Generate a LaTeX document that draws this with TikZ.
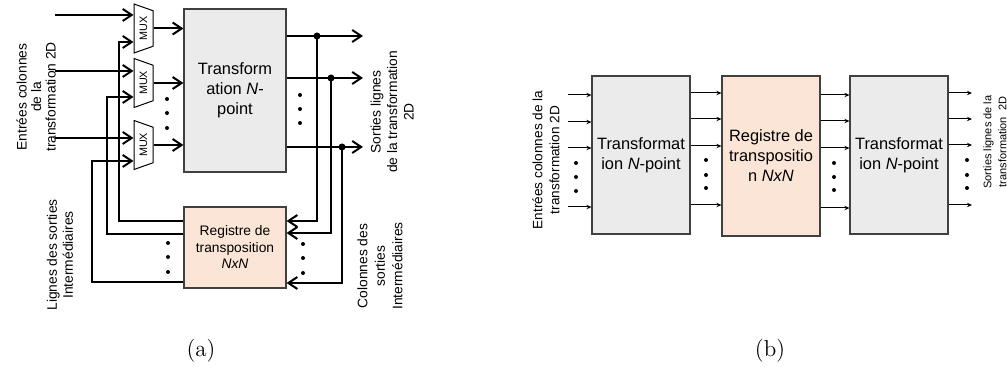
\documentclass[tikz,border=0pt]{standalone}
\usepackage{fontspec}
\newfontfamily\arialfont{Liberation Sans}
\usetikzlibrary{arrows.meta,shapes.geometric}
\definecolor{peach}{RGB}{251,229,214}
\definecolor{boxgray}{RGB}{235,235,235}

\begin{document}
\begin{tikzpicture}[x=0.5pt,y=-0.5pt,
  tbox/.style={rectangle, draw=black!75, line width=0.6pt, fill=boxgray,
               align=center, inner sep=1pt,
               font=\arialfont\fontsize{8.2}{10}\selectfont},
  rbox/.style={tbox, fill=peach},
  mux/.style={trapezium, draw, line width=0.5pt,
              trapezium left angle=121, trapezium right angle=121,
              trapezium stretches=true, minimum width=24.5pt, minimum height=9.5pt,
              inner sep=0pt, rotate=90, font=\arialfont\fontsize{5.4}{6}\selectfont},
  lbl/.style={rotate=90, align=center, inner sep=0pt},
  arr/.style={-{Straight Barb[length=4.5pt,width=6pt]}, line width=1pt},
  thin/.style={-{Stealth[length=2.5pt,width=2.2pt]}, line width=0.5pt},
  font=\arialfont
]
\useasboundingbox (0,0) rectangle (1007,367);

% (a) MUX and transform
\node[mux] (m1) at (143.5,28.5) {MUX};
\node[mux] (m2) at (143.5,83) {MUX};
\node[mux] (m3) at (143.5,145) {MUX};
\node[tbox, minimum width=51pt, minimum height=81.5pt] (tr) at (235,90.5)
  {Transform\\ation \textit{N}-\\point};
\node[rbox, minimum width=51pt, minimum height=40.5pt,
      font=\arialfont\fontsize{6.9}{8.25}\selectfont] (rg) at (235,247.5)
  {Registre de\\transposition\\\textit{NxN}};

% inputs
\coordinate (i1) at (55,15);
\coordinate (i2) at (55,71);
\coordinate (i3) at (55,138);
\draw[arr] (i1) -- (i1 -| m1.north);
\draw[arr] (i2) -- (i2 -| m2.north);
\draw[arr] (i3) -- (i3 -| m3.north);
\draw[arr] (m1.south) -- (m1.south -| tr.west);
\draw[arr] (m2.south) -- (m2.south -| tr.west);
\draw[arr] (m3.south) -- (m3.south -| tr.west);

% outputs
\coordinate (o1) at (363,36);
\coordinate (o2) at (363,78);
\coordinate (o3) at (363,147);
\coordinate (j1) at (317,36);
\coordinate (j2) at (331,78);
\coordinate (j3) at (342,147);
\draw[arr] (o1 -| tr.east) -- (o1);
\draw[arr] (o2 -| tr.east) -- (o2);
\draw[arr] (o3 -| tr.east) -- (o3);
\fill (j1) circle (1.75pt);
\fill (j2) circle (1.75pt);
\fill (j3) circle (1.75pt);

% feedback
\draw[arr] (j1) |- (rg.east |- 0,221);
\draw[arr] (j2) |- (rg.east |- 0,233);
\draw[arr] (j3) |- (rg.east |- 0,283);
\draw[arr] (rg.west |- 0,221) -| (119,42) -- (m1.north |- 0,42);
\draw[arr] (rg.west |- 0,234) -| (107,97) -- (m2.north |- 0,97);
\draw[arr] (rg.west |- 0,282) -| (92,161) -- (m3.north |- 0,161);

% dots
\foreach \y in {99,113,128} \fill (167,\y) circle (1pt);
\foreach \y in {95,109,123} \fill (300,\y) circle (1pt);
\foreach \y in {243,257,272} \fill (168,\y) circle (1pt);
\foreach \y in {244,258,273} \fill (303,\y) circle (1pt);

% labels
\node[lbl, font=\arialfont\fontsize{6.9}{7.25}\selectfont] (lin) at (36,97)
  {Entrées colonnes\\de la\\transformation 2D};
\node[lbl, font=\arialfont\fontsize{6.9}{8}\selectfont] (lint) at (60,255)
  {Lignes des sorties\\Intermédiaires};
\node[lbl, font=\arialfont\fontsize{6.9}{8.25}\selectfont] (lout) at (392,112)
  {Sorties lignes\\de la transformation\\2D};
\node[lbl, font=\arialfont\fontsize{6.9}{8.75}\selectfont] (lcol) at (380,266)
  {Colonnes des\\sorties\\Intermédiaires};
\node[font=\rmfamily\fontsize{11.5}{13}\selectfont] (capa) at (201,351) {(a)};

% (b) pipeline
\node[tbox, minimum width=49pt, minimum height=79pt] (t1) at (641,155)
  {Transformat\\ion \textit{N}-point};
\node[rbox, minimum width=49pt, minimum height=80pt] (rg2) at (771,156)
  {Registre de\\transpositio\\n \textit{NxN}};
\node[tbox, minimum width=49pt, minimum height=79pt] (t2) at (899,155)
  {Transformat\\ion \textit{N}-point};

\foreach \y [count=\i] in {95,122,148,207} {
  \coordinate (bi\i) at (568,\y);
  \draw[thin] (bi\i) -- (bi\i -| t1.west);
}
\foreach \y in {93,119,146,205}
  \draw[thin] (t1.east |- 0,\y) -- (rg2.west |- 0,\y);
\foreach \y in {95,121,148,208}
  \draw[thin] (rg2.east |- 0,\y) -- (t2.west |- 0,\y);
\foreach \y [count=\i] in {93,119,145,205} {
  \coordinate (bo\i) at (972,\y);
  \draw[thin] (bo\i -| t2.east) -- (bo\i);
}

\foreach \y in {163,177,191} \fill (576,\y) circle (1pt);
\foreach \y in {160,175,188} \fill (706,\y) circle (1pt);
\foreach \y in {163,177,190} \fill (834,\y) circle (1pt);
\foreach \y in {160,175,188} \fill (967,\y) circle (1pt);

\node[lbl, font=\arialfont\fontsize{6.8}{8.5}\selectfont] (lbin) at (546,160)
  {Entrées colonnes de la\\transformation 2D};
\node[lbl, font=\arialfont\fontsize{5.5}{7.5}\selectfont] (lbout) at (995,142)
  {Sorties lignes de la\\transformation\ \ 2D};
\node[font=\rmfamily\fontsize{11.5}{13}\selectfont] (capb) at (770,351) {(b)};
\end{tikzpicture}
\end{document}
